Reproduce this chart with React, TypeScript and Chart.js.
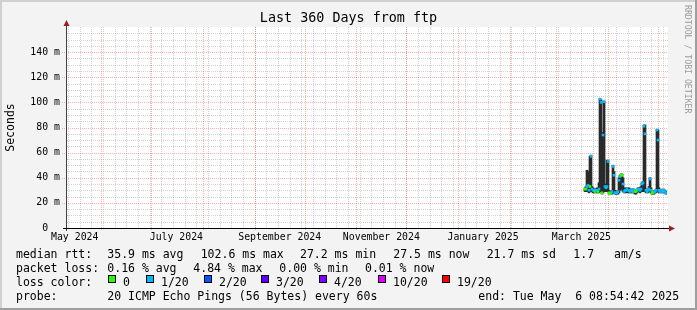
import React, { useEffect, useRef } from 'react';
import { Chart, registerables } from 'chart.js';

Chart.register(...registerables);

const WIDTH = 697;
const HEIGHT = 310;

const chartTitle = 'Last 360 Days from ftp';
const yAxisTitle = 'Seconds';
const watermark = 'RRDTOOL / TOBI OETIKER';

// ---- time frame (x axis in days since graph start) ----
const endStamp = Date.UTC(2025, 4, 6, 8, 54, 42);
const spanDays = 360;
const startStamp = endStamp - spanDays * 86400000;
const dayIndex = (y: number, m: number, d: number) => (Date.UTC(y, m, d) - startStamp) / 86400000;

const xLabelDates: [number, number, number][] = [
  [2024, 4, 16], [2024, 6, 16], [2024, 8, 16], [2024, 10, 16], [2025, 0, 16], [2025, 2, 16],
];
const xLabelTexts = ['May 2024', 'July 2024', 'September 2024', 'November 2024', 'January 2025', 'March 2025'];

const yTickValues = [0, 20, 40, 60, 80, 100, 120, 140];
const yTickTexts = ['0  ', '20 m', '40 m', '60 m', '80 m', '100 m', '120 m', '140 m'];
const yMax = 160;
const yMinorStep = 5;

// ---- data: one sample per RRD step (0.6 day) ----
const sampleStartDay = 310.8;
const sampleStepDays = 0.6;

const medianMs = [
  31, 31, 33, 34, 30, 33, 57, 31, 30, 30, 29, 30, 30, 29, 31, 102.6, 100, 28, 74, 100.5,
  33, 32, 33, 53, 28, 27.2, 28, 29, 49, 42, 28, 28, 28, 29, 38, 41, 42, 42, 35, 29,
  30, 30, 31, 30, 30, 29, 30, 30, 29, 30, 29, 29, 30, 31, 31, 30, 31, 35, 36, 81,
  75, 30, 29, 30, 31, 39, 30, 28, 28, 29, 29, 30, 78, 70, 30, 29, 29, 30, 29, 30,
  29, 27.5,
];
const smokeHighMs = [
  32, 33, 46, 45, 32, 57, 58, 33, 32, 31, 31, 31, 32, 31, 36, 103, 102, 30, 76, 101,
  35, 34, 54, 54, 30, 29, 29, 30, 50, 45, 30, 29, 29, 30, 40, 42, 43, 43, 40, 31,
  32, 31, 32, 31, 32, 30, 31, 31, 31, 31, 30, 30, 31, 32, 32, 32, 33, 36, 37, 82,
  82, 31, 30, 31, 33, 40, 32, 29, 29, 30, 30, 31, 78.5, 78, 32, 30, 30, 31, 30, 31,
  30, 29,
];
const smokeLowMs = [
  29, 29, 29, 29, 28, 29, 29, 29, 28, 28, 28, 28, 28, 28, 28, 29, 29, 27, 28, 29,
  29, 29, 29, 29, 27, 27, 27, 27, 28, 28, 27, 27, 27, 27, 28, 30, 31, 31, 29, 28,
  28, 28, 29, 28, 28, 28, 28, 28, 28, 28, 27, 27, 28, 29, 29, 28, 29, 29, 29, 29,
  29, 28, 28, 28, 29, 29, 28, 27, 27, 27, 28, 28, 29, 29, 28, 28, 28, 28, 28, 28,
  28, 27,
];
// index into lossColors
const lossLevel = [
  0, 0, 1, 1, 1, 0, 1, 1, 1, 1, 0, 1, 1, 0, 1, 1, 1, 0, 1, 1,
  1, 1, 1, 1, 0, 0, 0, 1, 1, 1, 1, 1, 1, 1, 1, 1, 0, 0, 1, 1,
  1, 1, 1, 1, 1, 1, 1, 1, 1, 1, 0, 0, 0, 1, 1, 1, 1, 1, 1, 1,
  1, 1, 1, 1, 1, 1, 1, 0, 0, 0, 1, 1, 1, 1, 1, 1, 1, 1, 1, 1,
  1, 1,
];

const lossColors = ['#26ff00', '#00b8ff', '#0059ff', '#5e00ff', '#7e00ff', '#dd00ff', '#ff0000'];
const lossLabels = ['0', '1/20', '2/20', '3/20', '4/20', '10/20', '19/20'];

// ---- legend texts ----
const rttRow: [number, string][] = [
  [16, 'median rtt:'], [107.3, '35.9 ms avg'], [200.7, '102.6 ms max'], [300, '27.2 ms min'],
  [393.3, '27.5 ms now'], [486.7, '21.7 ms sd'], [573.3, '1.7'], [614, 'am/s'],
];
const lossRow: [number, string][] = [
  [16, 'packet loss:'], [107.3, '0.16 % avg'], [193.3, '4.84 % max'], [279.3, '0.00 % min'], [365, '0.01 % now'],
];
const probeRow: [number, string][] = [
  [16, 'probe:'], [107.3, '20 ICMP Echo Pings (56 Bytes) every 60s'], [478.3, 'end: Tue May  6 08:54:42 2025'],
];
const lossColorLabel = 'loss color:';

const MONO = '"DejaVu Sans Mono", "Liberation Mono", monospace';

const sampleDays = medianMs.map((_, i) => sampleStartDay + i * sampleStepDays);
const xLabelDays = xLabelDates.map(([y, m, d]) => dayIndex(y, m, d));

function monthStarts(): number[] {
  const out: number[] = [];
  for (let k = 0; k < 14; k++) {
    const d = dayIndex(2024, 4 + k, 1);
    if (d > 0 && d < spanDays) out.push(d);
  }
  return out;
}
function weekStarts(): number[] {
  const out: number[] = [];
  for (let d = dayIndex(2024, 4, 12); d < spanDays; d += 7) if (d > 0) out.push(d);
  return out;
}

const rrdPlugin = {
  id: 'rrdLook',
  beforeDraw(chart: any) {
    const { ctx, chartArea: a } = chart;
    ctx.save();
    ctx.fillStyle = '#f3f3f3';
    ctx.fillRect(0, 0, WIDTH, HEIGHT);
    ctx.fillStyle = '#d0d0d0';
    ctx.fillRect(0, 0, WIDTH, 2);
    ctx.fillRect(0, 0, 2, HEIGHT);
    ctx.fillStyle = '#9e9e9e';
    ctx.fillRect(0, HEIGHT - 2, WIDTH, 2);
    ctx.fillRect(WIDTH - 2, 0, 2, HEIGHT);
    ctx.fillStyle = '#ffffff';
    ctx.fillRect(a.left, a.top, a.right - a.left + 1, a.bottom - a.top);
    ctx.restore();
  },
  beforeDatasetsDraw(chart: any) {
    const { ctx, chartArea: a, scales } = chart;
    const xs = scales.x;
    const ys = scales.y;
    const minor = 'rgba(130,130,130,0.36)';
    const major = 'rgba(255,0,0,0.3)';
    ctx.save();
    ctx.lineWidth = 1;
    ctx.setLineDash([1, 1]);
    const hline = (v: number, color: string, ext: number) => {
      const y = Math.round(ys.getPixelForValue(v)) + 0.5;
      ctx.strokeStyle = color;
      ctx.beginPath();
      ctx.moveTo(a.left - ext, y);
      ctx.lineTo(a.right + 1, y);
      ctx.stroke();
    };
    const vline = (d: number, color: string, ext: number) => {
      const x = Math.round(xs.getPixelForValue(d)) + 0.5;
      ctx.strokeStyle = color;
      ctx.beginPath();
      ctx.moveTo(x, a.top);
      ctx.lineTo(x, a.bottom + ext);
      ctx.stroke();
    };
    for (let v = yMinorStep; v < yMax; v += yMinorStep) if (v % 20 !== 0) hline(v, minor, 0);
    weekStarts().forEach((d) => vline(d, minor, 0));
    for (let v = 20; v < yMax; v += 20) hline(v, major, 5);
    monthStarts().forEach((d) => vline(d, major, 3));
    ctx.restore();
  },
  afterDatasetsDraw(chart: any) {
    const { ctx, chartArea: a } = chart;
    ctx.save();
    ctx.setLineDash([]);
    ctx.lineWidth = 1;
    ctx.strokeStyle = '#404040';
    ctx.beginPath();
    ctx.moveTo(a.left - 0.5, a.bottom + 3);
    ctx.lineTo(a.left - 0.5, a.top - 1);
    ctx.stroke();
    ctx.strokeStyle = '#000';
    ctx.beginPath();
    ctx.moveTo(a.left - 4, a.bottom + 0.5);
    ctx.lineTo(a.right + 2, a.bottom + 0.5);
    ctx.stroke();
    ctx.fillStyle = '#a01c1c';
    ctx.beginPath();
    ctx.moveTo(a.left - 0.5, a.top - 7);
    ctx.lineTo(a.left - 3.5, a.top - 1);
    ctx.lineTo(a.left + 2.5, a.top - 1);
    ctx.closePath();
    ctx.fill();
    ctx.beginPath();
    ctx.moveTo(a.right + 8, a.bottom + 0.5);
    ctx.lineTo(a.right + 2, a.bottom - 2.5);
    ctx.lineTo(a.right + 2, a.bottom + 3.5);
    ctx.closePath();
    ctx.fill();
    ctx.restore();
  },
  afterDraw(chart: any) {
    const { ctx } = chart;
    ctx.save();
    ctx.fillStyle = '#000';
    ctx.textAlign = 'center';
    ctx.textBaseline = 'middle';
    ctx.font = `13.4px ${MONO}`;
    ctx.fillText(chartTitle, WIDTH / 2, 19);

    ctx.textAlign = 'left';
    ctx.textBaseline = 'alphabetic';
    ctx.font = `11.5px ${MONO}`;
    rttRow.forEach(([x, t]) => ctx.fillText(t, x, 258));
    lossRow.forEach(([x, t]) => ctx.fillText(t, x, 272));
    ctx.fillText(lossColorLabel, 16, 286);
    const swatchX = [108.3, 145.7, 203.7, 261.3, 319.3, 377.7, 442.3];
    lossLabels.forEach((lbl, i) => {
      const sx = Math.round(swatchX[i]);
      ctx.fillStyle = lossColors[i];
      ctx.fillRect(sx, 275, 8, 8);
      ctx.strokeStyle = '#000';
      ctx.lineWidth = 1;
      ctx.strokeRect(sx + 0.5, 275.5, 7, 7);
      ctx.fillStyle = '#000';
      ctx.fillText(lbl, sx + 15, 286);
    });
    probeRow.forEach(([x, t]) => ctx.fillText(t, x, 300));

    ctx.translate(687, 5);
    ctx.rotate(Math.PI / 2);
    ctx.fillStyle = '#9a9a9a';
    ctx.font = `8.2px ${MONO}`;
    ctx.textBaseline = 'middle';
    ctx.fillText(watermark, 0, 0);
    ctx.restore();
  },
};

export default function App() {
  const ref = useRef<HTMLCanvasElement>(null);
  useEffect(() => {
    document.body.style.margin = '0';
    const canvas = ref.current;
    if (!canvas) return;
    const chart = new Chart(canvas, {
      type: 'bar',
      data: {
        datasets: [
          {
            label: 'median',
            data: medianMs.map((m, i) => ({ x: sampleDays[i], y: [m - 0.8, m + 0.8] })) as any,
            backgroundColor: lossLevel.map((l) => lossColors[l]),
            borderWidth: 0,
            barThickness: 2,
            grouped: false,
            order: 0,
          } as any,
          {
            label: 'smoke',
            data: smokeHighMs.map((h, i) => ({ x: sampleDays[i], y: [smokeLowMs[i], h] })) as any,
            backgroundColor: '#2a2a2a',
            borderWidth: 0,
            barThickness: 2,
            grouped: false,
            order: 1,
          } as any,
        ],
      },
      options: {
        responsive: false,
        animation: false,
        devicePixelRatio: 1,
        layout: { padding: { left: 0, right: 30, top: 27, bottom: 62 } },
        plugins: { legend: { display: false }, tooltip: { enabled: false }, title: { display: false } },
        scales: {
          x: {
            type: 'linear',
            min: 0,
            max: spanDays,
            offset: false,
            grid: { display: false, drawTicks: false },
            border: { display: false },
            afterBuildTicks: (s: any) => {
              s.ticks = xLabelDays.map((v) => ({ value: v }));
            },
            afterFit: (s: any) => {
              s.height = 20;
            },
            ticks: {
              autoSkip: false,
              maxRotation: 0,
              minRotation: 0,
              padding: 4,
              color: '#000',
              font: { family: MONO, size: 9.85 },
              callback: (_v: any, i: number) => xLabelTexts[i],
            },
          },
          y: {
            type: 'linear',
            min: 0,
            max: yMax,
            grid: { display: false, drawTicks: false },
            border: { display: false },
            afterBuildTicks: (s: any) => {
              s.ticks = yTickValues.map((v) => ({ value: v }));
            },
            afterFit: (s: any) => {
              s.width = 67;
            },
            ticks: {
              padding: 7,
              color: '#000',
              font: { family: MONO, size: 9.85 },
              callback: (_v: any, i: number) => yTickTexts[i],
            },
            title: {
              display: true,
              text: yAxisTitle,
              color: '#000',
              font: { family: MONO, size: 11.5 },
              padding: { top: 4, bottom: 0 },
            },
          },
        },
      } as any,
      plugins: [rrdPlugin],
    });
    return () => chart.destroy();
  }, []);
  return (
    <div style={{ position: 'fixed', left: 0, top: 0, width: WIDTH, height: HEIGHT }}>
      <canvas ref={ref} width={WIDTH} height={HEIGHT} style={{ display: 'block', width: WIDTH, height: HEIGHT }} />
    </div>
  );
}
